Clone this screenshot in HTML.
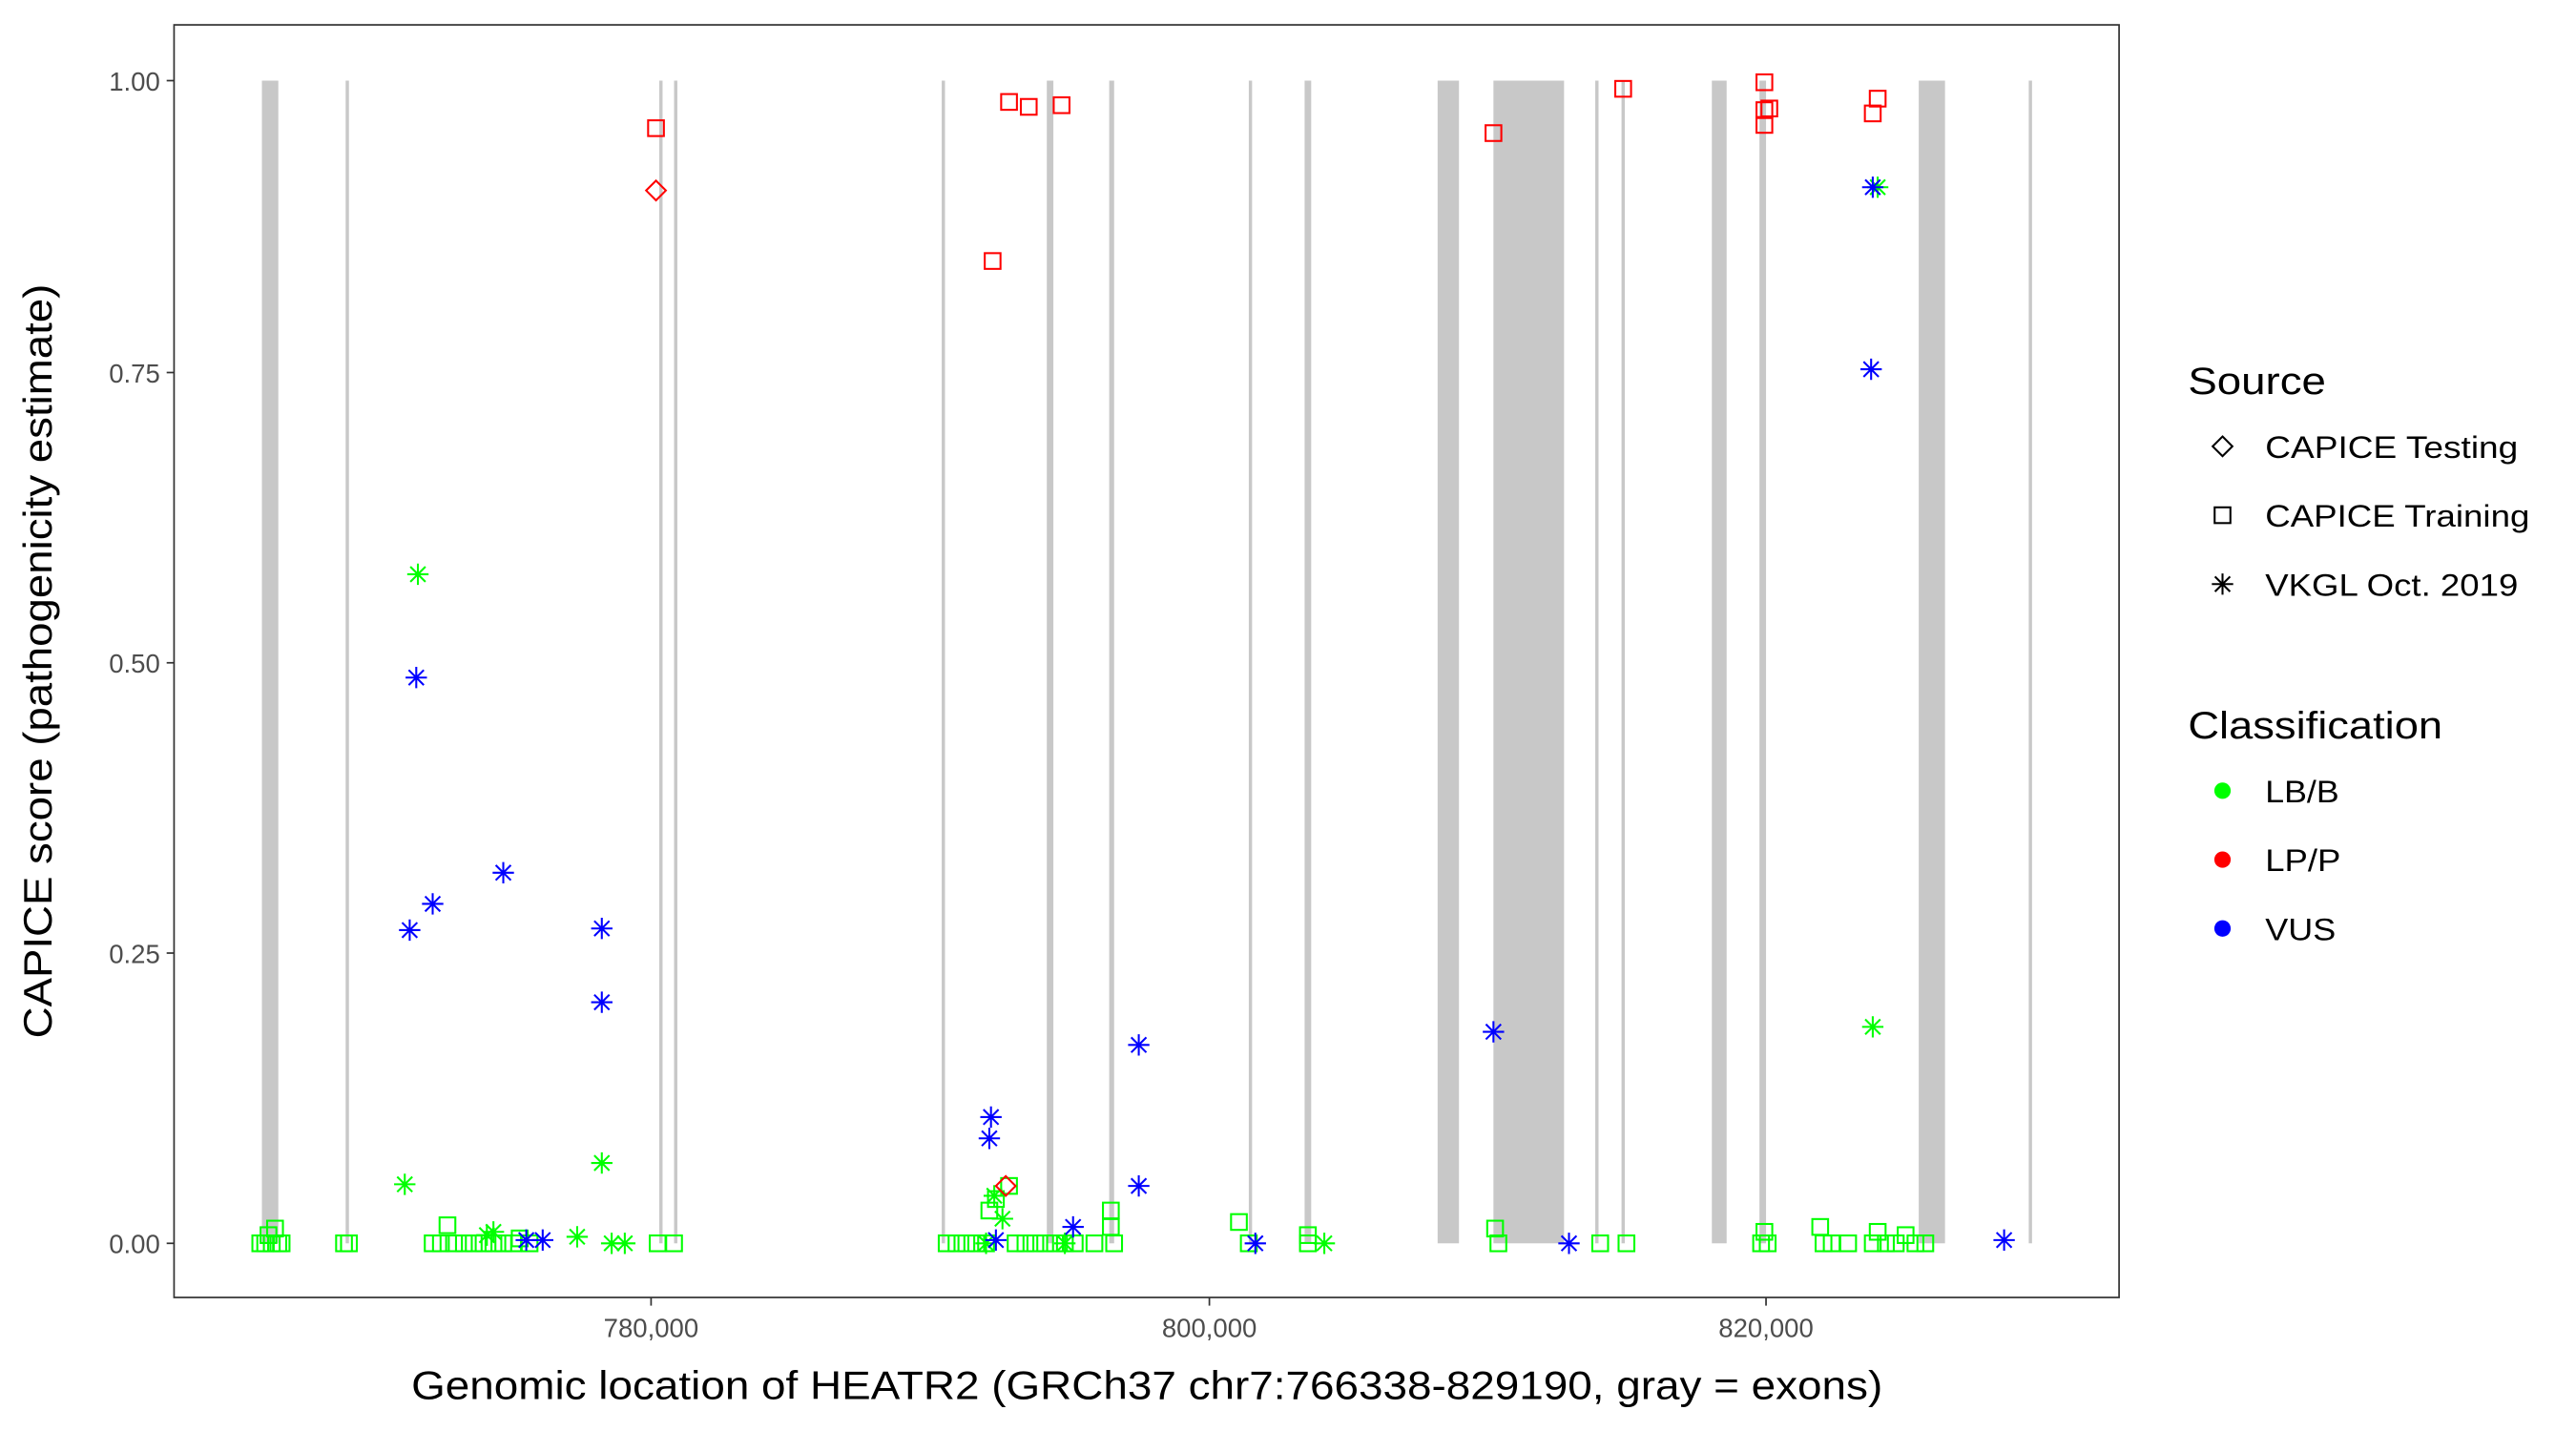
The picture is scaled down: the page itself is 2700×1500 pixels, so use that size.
<!DOCTYPE html>
<html><head><meta charset="utf-8"><style>
html,body{margin:0;padding:0;background:#fff;}
svg{display:block;}
text{font-family:"Liberation Sans",Arial,sans-serif;}
</style></head><body>
<svg id="s" width="2700" height="1500" xmlns="http://www.w3.org/2000/svg">
<g id="g" transform="matrix(1.7211 0 0 1.719 0.86 2)">
<rect x="105.5" y="14" width="1184.5" height="776" fill="#fff" stroke="#333" stroke-width="1"/>
<g id="bands" fill="#c8c8c8"></g>
<g id="pts" fill="none" stroke-width="1.2"></g>
<g stroke="#333" stroke-width="1">
<line x1="101" x2="105.5" y1="48" y2="48"/><line x1="101" x2="105.5" y1="226" y2="226"/>
<line x1="101" x2="105.5" y1="403" y2="403"/><line x1="101" x2="105.5" y1="580" y2="580"/>
<line x1="101" x2="105.5" y1="757" y2="757"/>
<line x1="396" x2="396" y1="790" y2="795"/><line x1="736" x2="736" y1="790" y2="795"/><line x1="1075" x2="1075" y1="790" y2="795"/>
</g>
<g font-size="16" fill="#4d4d4d" text-anchor="end">
<text x="97" y="54">1.00</text><text x="97" y="232">0.75</text><text x="97" y="409">0.50</text>
<text x="97" y="586">0.25</text><text x="97" y="763">0.00</text>
</g>
<g font-size="16" fill="#4d4d4d" text-anchor="middle">
<text x="396" y="814">780,000</text><text x="736" y="814">800,000</text><text x="1075" y="814">820,000</text>
</g>
<text x="250" y="852" font-size="24" textLength="896" lengthAdjust="spacingAndGlyphs">Genomic location of HEATR2 (GRCh37 chr7:766338-829190, gray = exons)</text>
<text transform="translate(31,632) rotate(-90)" font-size="24" textLength="460" lengthAdjust="spacingAndGlyphs">CAPICE score (pathogenicity estimate)</text>
<text x="1332" y="239" font-size="23" textLength="84" lengthAdjust="spacingAndGlyphs">Source</text>
<text x="1379" y="278" font-size="19" textLength="154" lengthAdjust="spacingAndGlyphs">CAPICE Testing</text>
<text x="1379" y="320" font-size="19" textLength="161" lengthAdjust="spacingAndGlyphs">CAPICE Training</text>
<text x="1379" y="362" font-size="19" textLength="154" lengthAdjust="spacingAndGlyphs">VKGL Oct. 2019</text>
<text x="1332" y="449" font-size="23" textLength="155" lengthAdjust="spacingAndGlyphs">Classification</text>
<text x="1379" y="488" font-size="19" textLength="45" lengthAdjust="spacingAndGlyphs">LB/B</text>
<text x="1379" y="530" font-size="19" textLength="46" lengthAdjust="spacingAndGlyphs">LP/P</text>
<text x="1379" y="572" font-size="19" textLength="43" lengthAdjust="spacingAndGlyphs">VUS</text>
<g id="leg" fill="none" stroke="#000" stroke-width="1.2"></g>
<circle cx="1353" cy="481" r="5" fill="#00ff00"/>
<circle cx="1353" cy="523" r="5" fill="#ff0000"/>
<circle cx="1353" cy="565" r="5" fill="#0000ff"/>
</g>
</svg>
<script>
var NS="http://www.w3.org/2000/svg";
function el(p,t,a){var e=document.createElementNS(NS,t);for(var k in a)e.setAttribute(k,a[k]);p.appendChild(e);return e;}
var bands=[[159,169],[210,212],[401,403],[410,412],[573,575],[637,641],[675,678],[760,762],[794,798],[875,888],[909,952],[971,973],[987,989],[1042,1051],[1071,1075],[1168,1184],[1235,1237]];
var bg=document.getElementById('bands');
bands.forEach(function(b){el(bg,'rect',{x:b[0],y:48,width:b[1]-b[0],height:709});});
var pg=document.getElementById('pts');
function sq(p,x,y,c){el(p,'rect',{x:x-4.8,y:y-4.8,width:9.6,height:9.6,stroke:c});}
function di(p,x,y,c){el(p,'path',{d:'M'+x+' '+(y-6)+'L'+(x+6)+' '+y+'L'+x+' '+(y+6)+'L'+(x-6)+' '+y+'Z',stroke:c});}
function st(p,x,y,c){var r=6.5;el(p,'path',{d:'M'+(x-r)+' '+y+'H'+(x+r)+'M'+x+' '+(y-r)+'V'+(y+r)+'M'+(x-4.6)+' '+(y-4.6)+'L'+(x+4.6)+' '+(y+4.6)+'M'+(x-4.6)+' '+(y+4.6)+'L'+(x+4.6)+' '+(y-4.6),stroke:c});}
var G='#00ff00',R='#ff0000',B='#0000ff';
var gsq=[[158,757],[161,757],[163,752],[165,757],[167,748],[169,757],[171,757],[209,757],[212,757],[263,757],[268,757],[272,746],[276,757],[282,757],[288,757],[294,757],[300,757],[306,757],[312,757],[316,754],[322,757],[400,757],[410,757],
[576,757],[582,757],[588,757],[594,757],[600,757],[602,737],[606,730],[614,722],[618,757],[624,757],[630,757],[636,757],[642,757],[648,757],[654,757],[666,757],[676,737],[676,747],[678,757],
[754,744],[760,757],[796,752],[796,757],[910,748],[912,757],[974,757],[990,757],[1072,757],[1074,750],[1076,757],
[1108,747],[1110,757],[1115,757],[1125,757],[1140,757],[1143,750],[1148,757],[1154,757],[1160,752],[1166,757],[1172,757]];
gsq.forEach(function(p){sq(pg,p[0],p[1],G);});
[[246,721],[254,349],[296,752],[300,750],[351,753],[366,708],[372,757],[380,757],[605,728],[610,742],[600,757],[806,757],[1143,113],[1140,625],[648,757]].forEach(function(p){st(pg,p[0],p[1],G);});
[[253,412],[249,566],[263,550],[306,531],[366,565],[366,610],[320,755],[330,755],[603,680],[602,693],[606,755],[653,747],[693,636],[693,722],[764,757],[909,628],[955,757],[1140,113],[1139,224],[1220,755]].forEach(function(p){st(pg,p[0],p[1],B);});
[[399,77],[614,61],[626,64],[646,63],[604,158],[909,80],[988,53],[1074,49],[1074,75],[1074,66],[1077,65],[1140,68],[1143,59]].forEach(function(p){sq(pg,p[0],p[1],R);});
di(pg,399,115,R);di(pg,612,722,R);
var lg=document.getElementById('leg');
di(lg,1353,271,'#000');sq(lg,1353,313,'#000');st(lg,1353,355,'#000');
</script>
</body></html>
